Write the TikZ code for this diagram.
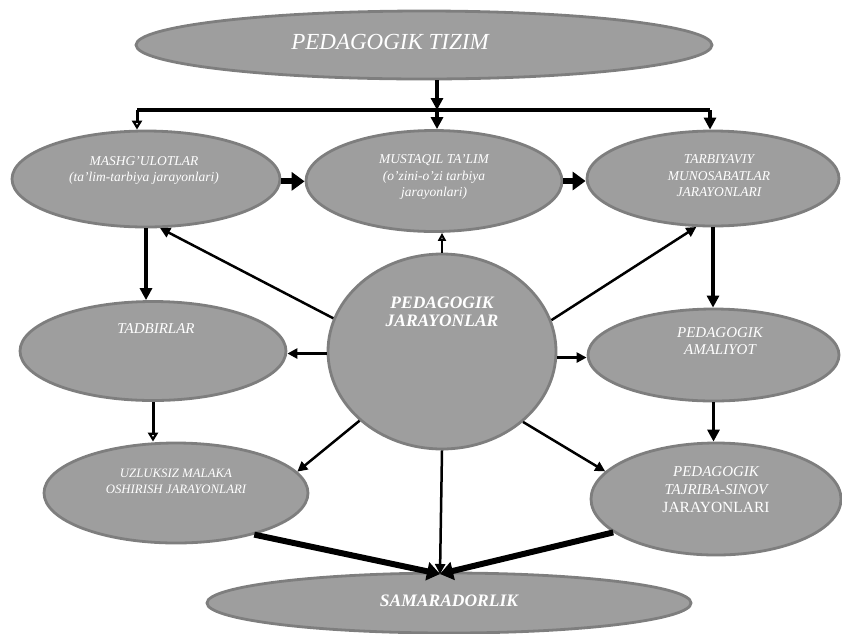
\documentclass[tikz,border=0pt]{standalone}
\usepackage{fontspec}
\setmainfont{Liberation Serif}
\usetikzlibrary{arrows.meta,shapes.geometric}
\definecolor{ellfill}{HTML}{9E9E9E}
\definecolor{elldraw}{HTML}{7E7E7E}
\begin{document}
\begin{tikzpicture}[x=1pt,y=-1pt,
  ell/.style={ellipse, fill=ellfill, draw=elldraw, line width=2.8pt, inner sep=0pt},
  tsm/.style={text=white, anchor=base, inner sep=0pt, font=\itshape\fontsize{13.5}{16}\selectfont},
  tmd/.style={text=white, anchor=base, inner sep=0pt, font=\itshape\fontsize{15}{17}\selectfont},
  tup/.style={text=white, anchor=base, inner sep=0pt, font=\upshape\fontsize{15.5}{17}\selectfont},
  tuz/.style={text=white, anchor=base, inner sep=0pt, font=\itshape\fontsize{12.8}{15}\selectfont},
  tbig/.style={text=white, anchor=base, inner sep=0pt, font=\itshape\fontsize{23}{26}\selectfont},
  tbold/.style={text=white, anchor=base, inner sep=0pt, font=\bfseries\itshape\fontsize{17.5}{19}\selectfont},
  spoke/.style={line width=2.5pt, -{Triangle[length=10pt,width=10pt]}},
  vert/.style={line width=3.5pt, -{Triangle[length=12pt,width=12pt]}},
  fat/.style={line width=6pt, -{Triangle[length=13pt,width=18pt]}},
  openarr/.style={line width=3pt, -{Triangle[open,length=9pt,width=10pt]}},
  topline/.style={line width=3.5pt}]
\useasboundingbox (0,0) rectangle (842,633);

% ellipses
\node[ell, minimum width=576pt, minimum height=68pt]  (tizim) at (424,45) {};
\node[ell, minimum width=268pt, minimum height=96pt]  (mash)  at (146,179) {};
\node[ell, minimum width=256pt, minimum height=101pt] (must)  at (434,181) {};
\node[ell, minimum width=252pt, minimum height=95pt]  (tarb)  at (713,178.5) {};
\node[ell, minimum width=266pt, minimum height=99pt]  (tad)   at (153,351) {};
\node[ell, minimum width=228pt, minimum height=195pt] (cen)   at (442,351.5) {};
\node[ell, minimum width=251pt, minimum height=92pt]  (amal)  at (713.5,355) {};
\node[ell, minimum width=264pt, minimum height=100pt] (uzl)   at (176,493) {};
\node[ell, minimum width=250pt, minimum height=112pt] (taj)   at (716,499) {};
\node[ell, minimum width=484pt, minimum height=60pt]  (sam)   at (449,603) {};

% texts
\node[tbig]  (t-tizim) at (390,49) {PEDAGOGIK TIZIM};
\node[tsm]   (t-mash1) at (144,165) {MASHG’ULOTLAR};
\node[tsm]   (t-mash2) at (144,181) {(ta’lim-tarbiya jarayonlari)};
\node[tsm]   (t-must1) at (434,163) {MUSTAQIL TA’LIM};
\node[tsm]   (t-must2) at (434,180) {(o’zini-o’zi tarbiya};
\node[tsm]   (t-must3) at (434,196) {jarayonlari)};
\node[tsm]   (t-tarb1) at (719,163) {TARBIYAVIY};
\node[tsm]   (t-tarb2) at (719,180) {MUNOSABATLAR};
\node[tsm]   (t-tarb3) at (719,196) {JARAYONLARI};
\node[tmd]   (t-tad)   at (156,333) {TADBIRLAR};
\node[tbold] (t-cen1)  at (442,308) {PEDAGOGIK};
\node[tbold] (t-cen2)  at (442,326) {JARAYONLAR};
\node[tmd]   (t-amal1) at (720,337) {PEDAGOGIK};
\node[tmd]   (t-amal2) at (720,354) {AMALIYOT};
\node[tuz]   (t-uzl1)  at (176,477) {UZLUKSIZ MALAKA};
\node[tuz]   (t-uzl2)  at (176,493) {OSHIRISH JARAYONLARI};
\node[tmd]   (t-taj1)  at (716,476) {PEDAGOGIK};
\node[tmd]   (t-taj2)  at (716,494) {TAJRIBA-SINOV};
\node[tup]   (t-taj3)  at (716,512) {JARAYONLARI};
\node[tbold] (t-sam)   at (449,606) {SAMARADORLIK};

% coordinates
\coordinate (split) at (437,110);
\coordinate (L) at (137,110);
\coordinate (R) at (710,110);
\coordinate (conv) at (440,574);

% top distribution
\draw[vert] (tizim.south -| split) -- (split);
\draw[topline] (L) -- (R);
\draw[openarr] (L) -- (L |- mash.north);
\draw[vert] (split) -- (split |- must.north);
\draw[vert] (R) -- (R |- tarb.north);

% row 2 horizontal
\draw[fat] (mash.-1) -- (mash.-1 -| must.west);
\draw[fat] (must.east) -- (must.east -| tarb.west);

% verticals
\draw[vert] (mash.south) -- (mash.south |- tad.north);
\draw[openarr] (tad.south) -- (tad.south |- uzl.north);
\draw[vert] (tarb.south) -- (tarb.south |- amal.north);
\draw[vert] (amal.south) -- (amal.south |- taj.north);

% spokes from centre
\draw[spoke] (cen.163.5) -- (mash.-74);
\draw[spoke] (cen.16) -- (tarb.251.7);
\draw[line width=2.5pt, -{Triangle[open,length=8pt,width=8pt]}] (cen.north) -- (cen.north |- must.south);
\draw[spoke] (cen.181) -- (cen.181 -| tad.east);
\draw[spoke] (cen.-3) -- (cen.-3 -| amal.west);
\draw[spoke] (cen.220.7) -- (uzl.10);
\draw[spoke] (cen.-41.4) -- (taj.166.8);
\draw[spoke] (cen.south) -- (conv);

% into SAMARADORLIK
\draw[fat] (uzl.-28.7) -- (conv);
\draw[fat] (taj.198) -- (conv);
\end{tikzpicture}
\end{document}
